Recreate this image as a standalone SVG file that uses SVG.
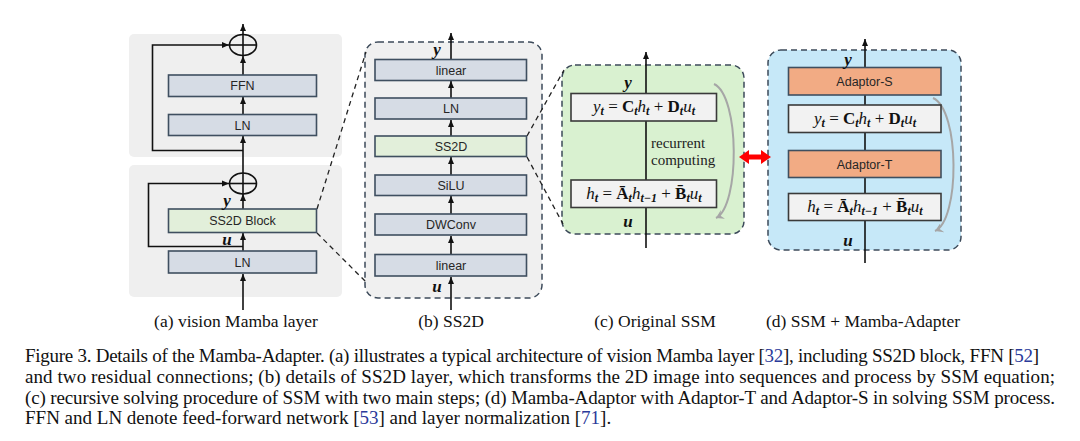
<svg xmlns="http://www.w3.org/2000/svg" width="1080" height="441" viewBox="0 0 1080 441">
<style>
.bg{fill:#efefef}
.blk{fill:#d6dce5;stroke:#3f4f60;stroke-width:1.6}
.grn{fill:#e2efda;stroke:#3f4f5f;stroke-width:1.6}
.ada{fill:#f2ab84;stroke:#3f4f60;stroke-width:1.6}
.eq{fill:#f2f2f2;stroke:#3a3a3a;stroke-width:1.6}
.lbl{font-family:"Liberation Sans",Arial,sans-serif;font-size:12.5px;fill:#262626;text-anchor:middle}
.var{font-family:"Liberation Serif","Times New Roman",serif;font-size:17px;font-style:italic;font-weight:bold;fill:#111;text-anchor:middle}
.m{font-family:"Liberation Serif","Times New Roman",serif;font-size:17px;fill:#111;text-anchor:middle}
.it{font-style:italic}
.bd{font-weight:bold}
.sb{font-size:12px;font-style:italic;font-weight:bold}
.cap{font-family:"Liberation Serif","Times New Roman",serif;font-size:17.5px;fill:#111;text-anchor:middle}
.fig{font-family:"Liberation Serif","Times New Roman",serif;font-size:19px;fill:#111}
.ref{fill:#2a3a9a}
.ln{stroke:#111;stroke-width:1.6;fill:none}
.dash{stroke:#222;stroke-width:1.3;stroke-dasharray:5 4;fill:none}
.pdash{stroke:#3c4a5a;stroke-width:1.5;stroke-dasharray:6 4}
.cur{stroke:#a6a6a6;stroke-width:2;fill:none}
</style>
<defs>
<marker id="ah" markerWidth="8" markerHeight="8" refX="7" refY="4" orient="auto" markerUnits="userSpaceOnUse"><path d="M0,1 L7,4 L0,7 Z" fill="#111"/></marker>
<marker id="gh" markerWidth="10" markerHeight="10" refX="8" refY="5" orient="auto" markerUnits="userSpaceOnUse"><path d="M0,0 L8,5 L0,10 L3,5 Z" fill="#a6a6a6"/></marker>
</defs>

<!-- panel a backgrounds -->
<g id="panel-a">
<rect class="bg" x="129" y="34" width="213" height="123" rx="5"/>
<rect class="bg" x="129" y="165" width="213" height="132" rx="5"/>
</g>

<!-- panel b/c/d containers -->
<g id="panel-b"><rect x="365" y="42" width="177" height="256" rx="13" fill="#f0f0f0" class="pdash"/></g>
<g id="panel-c"><rect x="562" y="65" width="182" height="169" rx="13" fill="#d9f1d0" class="pdash"/></g>
<g id="panel-d"><rect x="768" y="50" width="193" height="200" rx="13" fill="#c6e8f8" class="pdash"/></g>

<g id="connectors">
<!-- panel a main flow -->
<line class="ln" x1="243" y1="310" x2="243" y2="274" marker-end="url(#ah)"/>
<line class="ln" x1="243" y1="251" x2="243" y2="233" marker-end="url(#ah)"/>
<line class="ln" x1="243" y1="209" x2="243" y2="194" marker-end="url(#ah)"/>
<line class="ln" x1="243" y1="173" x2="243" y2="136" marker-end="url(#ah)"/>
<line class="ln" x1="243" y1="114" x2="243" y2="97" marker-end="url(#ah)"/>
<line class="ln" x1="243" y1="75" x2="243" y2="56" marker-end="url(#ah)"/>
<line class="ln" x1="243" y1="35" x2="243" y2="24" marker-end="url(#ah)"/>
<polyline class="ln" points="243,150.5 152.5,150.5 152.5,45 229,45" marker-end="url(#ah)"/>
<polyline class="ln" points="243,246.5 148.5,246.5 148.5,183.5 229,183.5" marker-end="url(#ah)"/>
<!-- panel b flow -->
<line class="ln" x1="451" y1="310" x2="451" y2="277" marker-end="url(#ah)"/>
<line class="ln" x1="451" y1="254" x2="451" y2="236" marker-end="url(#ah)"/>
<line class="ln" x1="451" y1="214" x2="451" y2="196" marker-end="url(#ah)"/>
<line class="ln" x1="451" y1="175" x2="451" y2="157" marker-end="url(#ah)"/>
<line class="ln" x1="451" y1="136" x2="451" y2="120" marker-end="url(#ah)"/>
<line class="ln" x1="451" y1="98" x2="451" y2="81" marker-end="url(#ah)"/>
<line class="ln" x1="451" y1="59" x2="451" y2="33" marker-end="url(#ah)"/>
<!-- panel c flow -->
<line class="ln" x1="646" y1="248" x2="646" y2="52" marker-end="url(#ah)"/>
<!-- panel d flow -->
<line class="ln" x1="865" y1="263" x2="865" y2="39" marker-end="url(#ah)"/>
<!-- zoom dashed lines -->
<line class="dash" x1="317" y1="209" x2="366" y2="52"/>
<line class="dash" x1="317" y1="233" x2="367" y2="283"/>
<line class="dash" x1="527" y1="136" x2="564" y2="70"/>
<line class="dash" x1="527" y1="157" x2="563" y2="224"/>
<!-- recurrence curves -->
<path class="cur" d="M714,84 C740,96 740,206 716,218" marker-end="url(#gh)"/>
<path class="cur" d="M933,98 C960,110 960,220 935,231" marker-end="url(#gh)"/>
<!-- red double arrow -->
<polygon points="739,157 749,150 749,154.5 761,154.5 761,150 771,157 761,164 761,159.5 749,159.5 749,164" fill="#ff0000"/>
</g>

<!-- panel a nodes -->
<g id="a-add-top"><ellipse cx="243" cy="45" rx="13.5" ry="10.5" fill="none" stroke="#111" stroke-width="1.6"/><line class="ln" x1="229.5" y1="45" x2="256.5" y2="45"/><line class="ln" x1="243" y1="34.5" x2="243" y2="55.5"/></g>
<g id="a-ffn"><rect class="blk" x="168.5" y="75" width="148" height="21.5"/><text class="lbl" x="242.5" y="90">FFN</text></g>
<g id="a-ln-top"><rect class="blk" x="168.5" y="114.5" width="148" height="21"/><text class="lbl" x="242.5" y="129.5">LN</text></g>
<g id="a-add-bot"><ellipse cx="243" cy="183.5" rx="13.5" ry="10.5" fill="none" stroke="#111" stroke-width="1.6"/><line class="ln" x1="229.5" y1="183.5" x2="256.5" y2="183.5"/><line class="ln" x1="243" y1="173" x2="243" y2="194"/></g>
<g id="a-ss2d"><rect class="grn" x="168.5" y="209" width="148" height="23.5"/><text class="lbl" x="242.5" y="225">SS2D Block</text></g>
<g id="a-ln-bot"><rect class="blk" x="168.5" y="251" width="148" height="22"/><text class="lbl" x="242.5" y="266.5">LN</text></g>
<text class="var" x="227" y="206">y</text>
<text class="var" x="227" y="245">u</text>

<!-- panel b nodes -->
<g id="b-linear-top"><rect class="blk" x="375" y="59.5" width="151.5" height="21"/><text class="lbl" x="451" y="74.5">linear</text></g>
<g id="b-ln"><rect class="blk" x="375" y="98" width="151.5" height="21"/><text class="lbl" x="451" y="113">LN</text></g>
<g id="b-ss2d"><rect class="grn" x="375" y="136" width="151.5" height="20.5"/><text class="lbl" x="451" y="151">SS2D</text></g>
<g id="b-silu"><rect class="blk" x="375" y="175" width="151.5" height="20.5"/><text class="lbl" x="451" y="190">SiLU</text></g>
<g id="b-dwconv"><rect class="blk" x="375" y="214" width="151.5" height="21"/><text class="lbl" x="451" y="229">DWConv</text></g>
<g id="b-linear-bot"><rect class="blk" x="375" y="254.5" width="151.5" height="21.5"/><text class="lbl" x="451" y="270">linear</text></g>
<text class="var" x="437" y="55">y</text>
<text class="var" x="437" y="292" fill="#1f2d55">u</text>

<!-- panel c nodes -->
<g id="c-out"><rect class="eq" x="571" y="93.5" width="145.5" height="27.5"/>
<text class="m" x="644" y="112"><tspan class="it">y</tspan><tspan class="sb" dy="3">t</tspan><tspan dy="-3"> = </tspan><tspan class="bd">C</tspan><tspan class="sb" dy="3">t</tspan><tspan class="it" dy="-3">h</tspan><tspan class="sb" dy="3">t</tspan><tspan dy="-3"> + </tspan><tspan class="bd">D</tspan><tspan class="sb" dy="3">t</tspan><tspan class="it" dy="-3">u</tspan><tspan class="sb" dy="3">t</tspan></text></g>
<g id="c-state"><rect class="eq" x="571" y="180" width="145.5" height="27.5"/>
<text class="m" x="644" y="198.5"><tspan class="it">h</tspan><tspan class="sb" dy="3">t</tspan><tspan dy="-3"> = </tspan><tspan class="bd">Ā</tspan><tspan class="sb" dy="3">t</tspan><tspan class="it" dy="-3">h</tspan><tspan class="sb" dy="3">t−1</tspan><tspan dy="-3"> + </tspan><tspan class="bd">B̄</tspan><tspan class="sb" dy="3">t</tspan><tspan class="it" dy="-3">u</tspan><tspan class="sb" dy="3">t</tspan></text></g>
<text class="var" x="628" y="88">y</text>
<text class="var" x="628" y="227">u</text>
<text font-family="Liberation Serif,Times New Roman,serif" font-size="15px" fill="#222"><tspan x="651" y="148">recurrent</tspan><tspan x="651" y="165">computing</tspan></text>

<!-- panel d nodes -->
<g id="d-adaptor-s"><rect class="ada" x="788.5" y="67.5" width="152.5" height="27.5"/><text class="lbl" x="864.5" y="85.5">Adaptor-S</text></g>
<g id="d-out"><rect class="eq" x="788.5" y="105" width="152.5" height="27.5"/>
<text class="m" x="865" y="123.5"><tspan class="it">y</tspan><tspan class="sb" dy="3">t</tspan><tspan dy="-3"> = </tspan><tspan class="bd">C</tspan><tspan class="sb" dy="3">t</tspan><tspan class="it" dy="-3">h</tspan><tspan class="sb" dy="3">t</tspan><tspan dy="-3"> + </tspan><tspan class="bd">D</tspan><tspan class="sb" dy="3">t</tspan><tspan class="it" dy="-3">u</tspan><tspan class="sb" dy="3">t</tspan></text></g>
<g id="d-adaptor-t"><rect class="ada" x="788.5" y="150.5" width="152.5" height="27"/><text class="lbl" x="864.5" y="168.5">Adaptor-T</text></g>
<g id="d-state"><rect class="eq" x="788.5" y="193.5" width="152.5" height="27"/>
<text class="m" x="865" y="211.5"><tspan class="it">h</tspan><tspan class="sb" dy="3">t</tspan><tspan dy="-3"> = </tspan><tspan class="bd">Ā</tspan><tspan class="sb" dy="3">t</tspan><tspan class="it" dy="-3">h</tspan><tspan class="sb" dy="3">t−1</tspan><tspan dy="-3"> + </tspan><tspan class="bd">B̄</tspan><tspan class="sb" dy="3">t</tspan><tspan class="it" dy="-3">u</tspan><tspan class="sb" dy="3">t</tspan></text></g>
<text class="var" x="848" y="65">y</text>
<text class="var" x="848" y="246">u</text>

<!-- sub-captions -->
<text class="cap" x="236" y="327">(a) vision Mamba layer</text>
<text class="cap" x="451" y="327">(b) SS2D</text>
<text class="cap" x="655" y="327">(c) Original SSM</text>
<text class="cap" x="863" y="327">(d) SSM + Mamba-Adapter</text>

<!-- figure caption -->
<text class="fig" x="25" y="362" textLength="1014" lengthAdjust="spacing">Figure 3. Details of the Mamba-Adapter. (a) illustrates a typical architecture of vision Mamba layer [<tspan class="ref">32</tspan>], including SS2D block, FFN [<tspan class="ref">52</tspan>]</text>
<text class="fig" x="25" y="383" textLength="1030" lengthAdjust="spacing">and two residual connections; (b) details of SS2D layer, which transforms the 2D image into sequences and process by SSM equation;</text>
<text class="fig" x="25" y="404" textLength="1030" lengthAdjust="spacing">(c) recursive solving procedure of SSM with two main steps; (d) Mamba-Adaptor with Adaptor-T and Adaptor-S in solving SSM process.</text>
<text class="fig" x="25" y="424">FFN and LN denote feed-forward network [<tspan class="ref">53</tspan>] and layer normalization [<tspan class="ref">71</tspan>].</text>
</svg>
